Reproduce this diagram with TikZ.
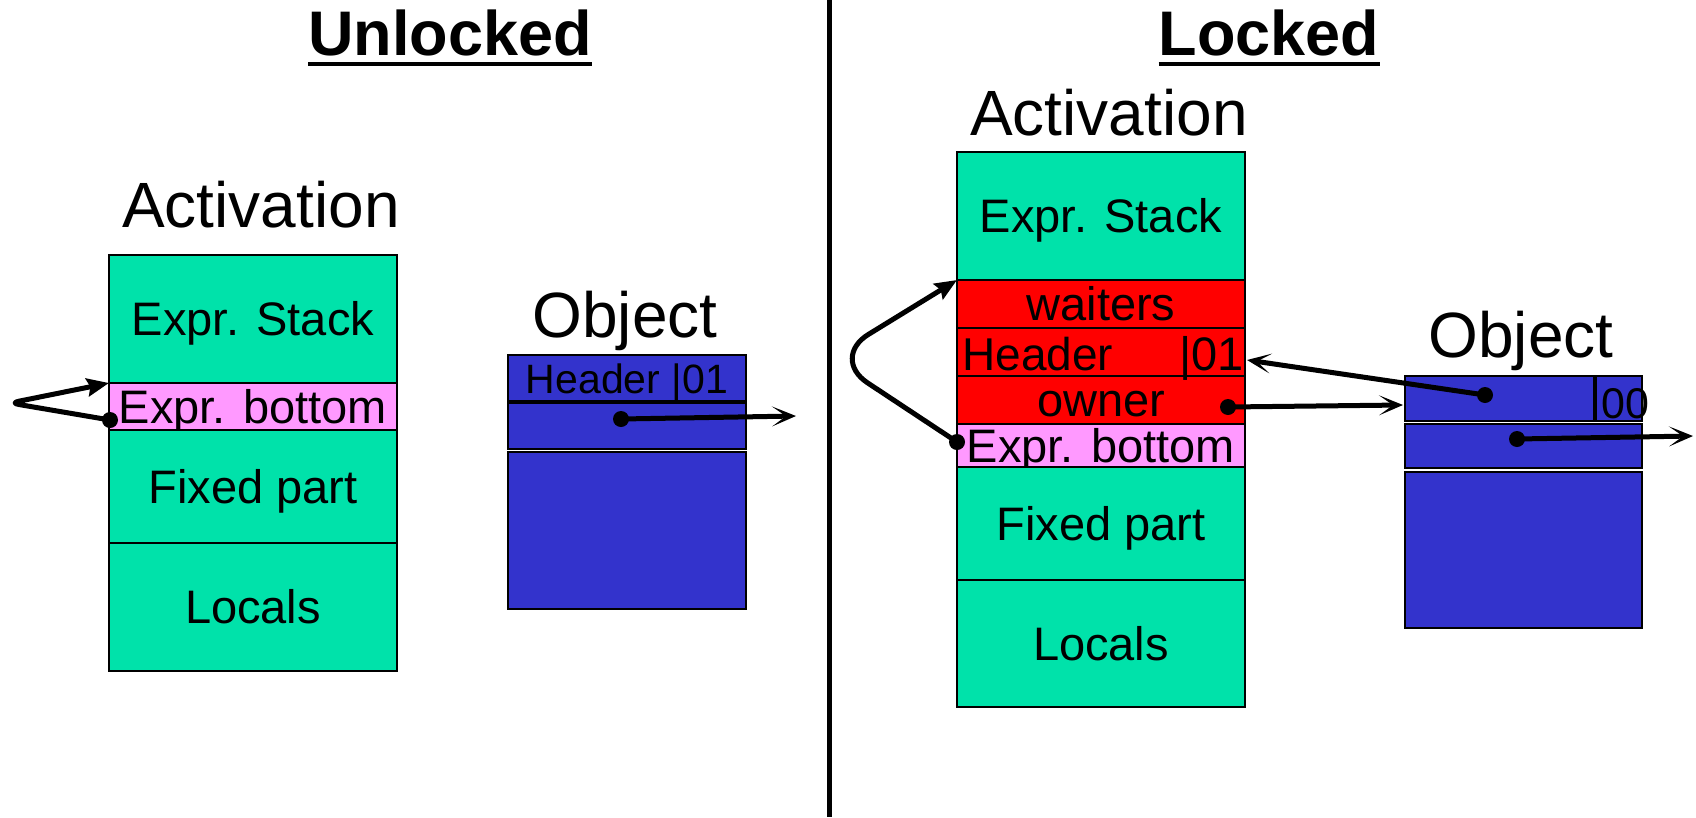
\documentclass[tikz,border=0pt]{standalone}
\usepackage{fontspec}
\setmainfont{Liberation Sans}
\usetikzlibrary{arrows.meta}

\definecolor{stackgreen}{HTML}{00E2AA}
\definecolor{bottompink}{HTML}{FF99FF}
\definecolor{lockred}{HTML}{FF0000}
\definecolor{objblue}{HTML}{3333CC}

\newcommand\fsz[1]{\fontsize{#1}{#1}\selectfont}

\tikzset{
  cell/.style={draw=black, line width=2.2pt, inner sep=0pt, outer sep=0pt,
    anchor=north west, font=\fsz{47}, text height=33.6pt, text depth=0pt},
  green cell/.style={cell, fill=stackgreen},
  pink cell/.style={cell, fill=bottompink},
  red cell/.style={cell, fill=lockred},
  blue cell/.style={cell, fill=objblue},
  title/.style={inner sep=0pt, anchor=base, font=\fsz{63}\bfseries},
  caption/.style={inner sep=0pt, anchor=base, font=\fsz{64}},
  label/.style={inner sep=0pt, font=\fsz{47}},
  ptr/.style={line width=5pt, -{Stealth[length=24pt,width=20pt,inset=14pt]}},
  loopptr/.style={line width=5pt, line join=round,
    -{Stealth[length=22pt,width=18pt,inset=3pt]}},
  dot/.style={fill=black},
}

\begin{document}
\begin{tikzpicture}[x=1pt,y=-1pt]
\useasboundingbox[fill=white] (0,0) rectangle (1696,817);

% separator between the two halves
\draw[line width=5pt] (829.5,0) -- (829.5,817);

% headings
\node[title] (t-unlocked) at (450,55) {Unlocked};
\draw[line width=4.5pt] (t-unlocked.west |- 0,64) -- (t-unlocked.east |- 0,64);
\node[title] (t-locked) at (1269,55) {Locked};
\draw[line width=4.5pt] (t-locked.west |- 0,64) -- (t-locked.east |- 0,64);

% ---------- unlocked: activation ----------
\node[caption] (la-cap) at (261,227) {Activation};
\node[green cell, minimum width=288pt, minimum height=128pt] (la-stack) at (109,255) {Expr. Stack};
\node[pink cell, minimum width=288pt, minimum height=47pt] (la-bot) at (109,383) {Expr. bottom};
\node[green cell, minimum width=288pt, minimum height=113pt] (la-fixed) at (109,430) {Fixed part};
\node[green cell, minimum width=288pt, minimum height=128pt] (la-loc) at (109,543) {Locals};

% ---------- unlocked: object ----------
\node[caption] (lo-cap) at (625,337) {Object};
\node[blue cell, minimum width=238pt, minimum height=46pt] (lo-head) at (508,355) {};
\node[blue cell, minimum width=238pt, minimum height=46pt] (lo-ptr) at (508,403) {};
\node[blue cell, minimum width=238pt, minimum height=157pt] (lo-body) at (508,452) {};
\node[inner sep=0pt, anchor=base, font=\fsz{41}] (lo-hdr) at (627,393) {Header |01};

% ---------- locked: activation ----------
\node[caption] (ra-cap) at (1109,135) {Activation};
\node[green cell, minimum width=288pt, minimum height=128pt] (ra-stack) at (957,152) {Expr. Stack};
\node[red cell, minimum width=288pt, minimum height=48pt] (ra-wait) at (957,280) {waiters};
\node[red cell, minimum width=288pt, minimum height=48pt] (ra-head) at (957,328) {};
\node[red cell, minimum width=288pt, minimum height=48pt] (ra-own) at (957,376) {owner};
\node[pink cell, minimum width=288pt, minimum height=43pt] (ra-bot) at (957,424) {Expr. bottom};
\node[green cell, minimum width=288pt, minimum height=113pt] (ra-fixed) at (957,467) {Fixed part};
\node[green cell, minimum width=288pt, minimum height=127pt] (ra-loc) at (957,580) {Locals};
\node[label, anchor=base west, font=\fsz{46}] (ra-hdr) at (962,370) {Header};
\node[label, anchor=base east] (ra-bits) at (1244,370) {|01};

% ---------- locked: object ----------
\node[caption] (ro-cap) at (1521,357) {Object};
\node[blue cell, minimum width=237pt, minimum height=45pt] (ro-head) at (1405,376) {};
\node[blue cell, minimum width=237pt, minimum height=44pt] (ro-ptr) at (1405,424) {};
\node[blue cell, minimum width=237pt, minimum height=156pt] (ro-body) at (1405,472) {};
\draw[line width=3.5pt] (1595,376) -- (1595,421);
\node[inner sep=0pt, anchor=base west, font=\fsz{43}] (ro-bits) at (1601,418) {00};

% ---------- pointer anchors ----------
\coordinate (la-dot) at (110,420);
\coordinate (la-apex) at (10,403);
\coordinate (lo-dot) at (621,419);
\coordinate (lo-out) at (796,416);
\coordinate (ra-dot) at (957,442);
\coordinate (ra-apex) at (830,358);
\coordinate (own-dot) at (1228,407);
\coordinate (own-in) at (1403,405);
\coordinate (obj-dot) at (1485,395);
\coordinate (hdr-in) at (1247,360);
\coordinate (ro-dot) at (1517,439);
\coordinate (ro-out) at (1693,436);

% ---------- pointers ----------
\draw[loopptr, rounded corners=9pt] (la-dot) -- (la-apex) -- (la-bot.north west);
\draw[loopptr, rounded corners=45pt] (ra-dot) -- (ra-apex) -- (ra-wait.north west);
\draw[ptr] (lo-dot) -- (lo-out);
\draw[ptr] (own-dot) -- (own-in);
\draw[ptr] (obj-dot) -- (hdr-in);
\draw[ptr] (ro-dot) -- (ro-out);

\foreach \d in {la-dot, lo-dot, ra-dot, own-dot, obj-dot, ro-dot}
  \fill[dot] (\d) circle (8pt);
\end{tikzpicture}
\end{document}
